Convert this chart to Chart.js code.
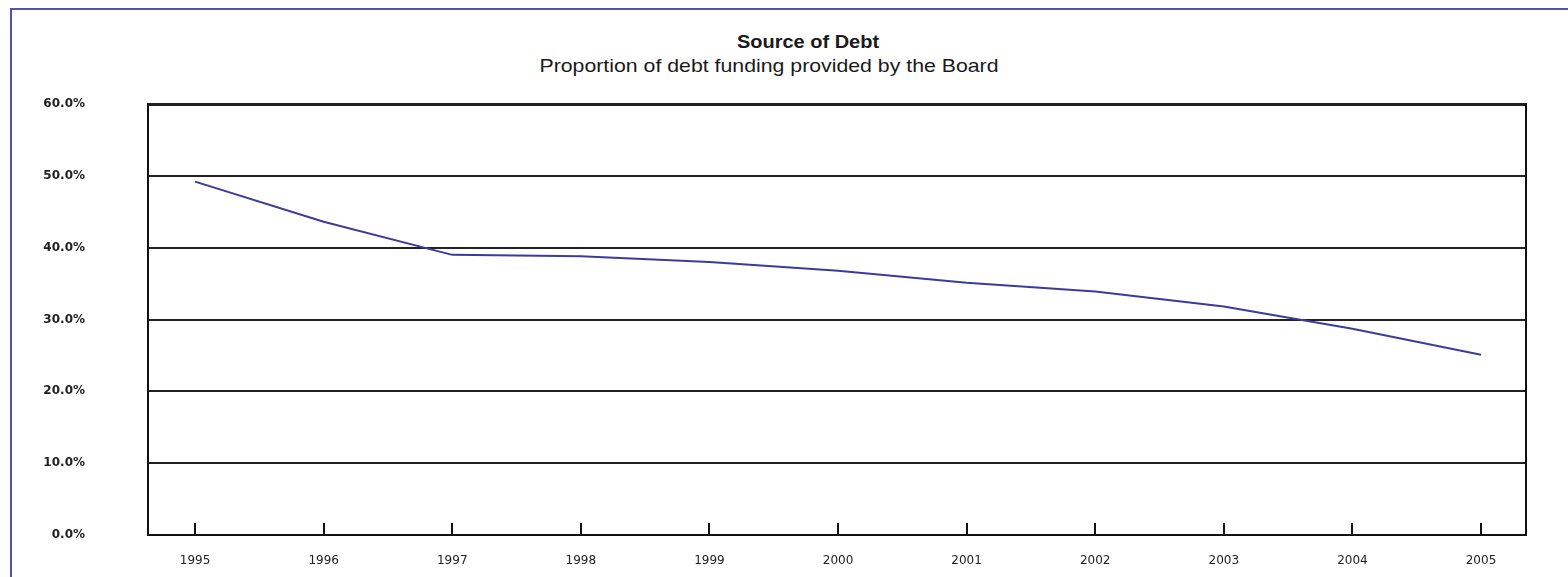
<!DOCTYPE html>
<html>
<head>
<meta charset="utf-8">
<script src="https://cdn.jsdelivr.net/npm/chart.js@4"></script>
<style>
  html, body { margin: 0; padding: 0; background: #fff; overflow: hidden; }
  #frame { position: absolute; left: 10px; top: 8px; width: 1600px; height: 620px; border: 2px solid #5252aa; box-sizing: border-box; }
  #myChart { position: absolute; left: 0; top: 0; }
  .ttl { position: absolute; white-space: nowrap; color: #1a1a1a; font-family: "Liberation Sans", Arial, sans-serif; }
  #t1 { left: 808px; top: 42px; font-size: 18px; font-weight: bold; transform: translate(-50%, -50%) scaleX(1.11); }
  #t2 { left: 769px; top: 66px; font-size: 19px; transform: translate(-50%, -50%) scaleX(1.12); }
</style>
</head>
<body>
<div id="frame"></div>
<div id="t1" class="ttl">Source of Debt</div>
<div id="t2" class="ttl">Proportion of debt funding provided by the Board</div>
<canvas id="myChart" width="1568" height="577"></canvas>
<script>
const years = [1995, 1996, 1997, 1998, 1999, 2000, 2001, 2002, 2003, 2004, 2005];
const boardShare = [49.2, 43.6, 39.0, 38.8, 38.0, 36.8, 35.1, 33.9, 31.8, 28.7, 25.1];
const yTicks = [0, 10, 20, 30, 40, 50, 60];

const points = years.map((y, i) => ({ x: y, y: boardShare[i] }));

new Chart("myChart", {
  type: "line",
  data: {
    datasets: [
      {
        label: "Board",
        data: points,
        borderColor: "#3b3b9c",
        borderWidth: 2,
        pointRadius: 0,
        tension: 0,
        fill: false,
      },
    ],
  },
  options: {
    responsive: false,
    animation: false,
    layout: { padding: { top: 104, left: 0, right: 0, bottom: 0 } },
    plugins: {
      legend: { display: false },
      tooltip: { enabled: false },
    },
    scales: {
      x: {
        type: "linear",
        bounds: "data",
        min: 1994.634,
        max: 2005.35,
        afterFit: (s) => { s.height = 42; },
        afterBuildTicks: (s) => { s.ticks = years.map((v) => ({ value: v })); },
        grid: {
          drawOnChartArea: false,
          drawTicks: true,
          tickLength: -12,
          color: "#111",
          lineWidth: 2,
        },
        border: { display: true, color: "#111", width: 2 },
        ticks: {
          autoSkip: false,
          maxRotation: 0,
          padding: 31,
          color: "#222",
          font: { family: "DejaVu Sans", size: 12 },
          callback: (v) => String(v),
        },
      },
      y: {
        min: 0,
        max: 60,
        afterFit: (s) => { s.width = 148; },
        afterBuildTicks: (s) => { s.ticks = yTicks.map((v) => ({ value: v })); },
        grid: {
          drawTicks: true,
          tickLength: 63,
          tickColor: "rgba(0,0,0,0)",
          color: "#222",
          lineWidth: (ctx) => (ctx.tick && ctx.tick.value === 60 ? 3 : 2),
        },
        border: { display: true, color: "#111", width: 2 },
        ticks: {
          padding: 0,
          color: "#222",
          font: { family: "DejaVu Sans", size: 12, weight: "bold" },
          callback: (v) => v.toFixed(1) + "%",
        },
      },
      y2: {
        display: true,
        position: "right",
        min: 0,
        max: 60,
        afterFit: (s) => { s.width = 42; },
        grid: { drawOnChartArea: false, drawTicks: false },
        border: { display: true, color: "#111", width: 2 },
        ticks: { display: false },
      },
    },
  },
});
</script>
</body>
</html>
